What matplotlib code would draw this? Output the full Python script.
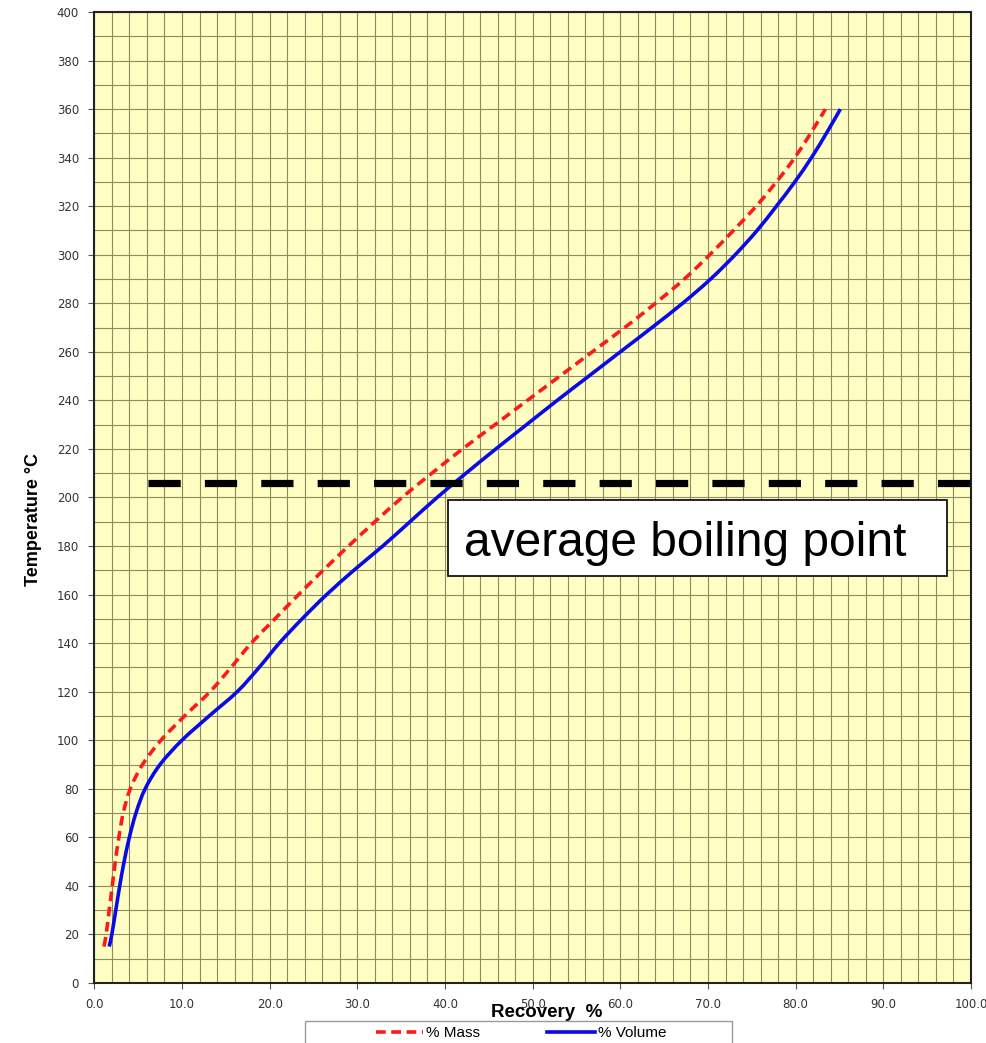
import numpy as np
import matplotlib
matplotlib.use("Agg")
import matplotlib.pyplot as plt
from matplotlib.lines import Line2D
from matplotlib.patches import Rectangle, PathPatch
from matplotlib.path import Path

plt.rcParams['lines.scale_dashes'] = False

# temperature (deg C) and recovery (%)
temps = [15, 20, 30, 40, 50, 60, 70, 80, 90, 100, 110, 120, 130, 140, 150, 160,
         170, 180, 190, 200, 210, 220, 230, 240, 250, 260, 270, 280, 290, 300,
         310, 320, 330, 340, 350, 360]
mass = [1.1, 1.35, 1.7, 2.05, 2.4, 2.8, 3.3, 4.1, 5.5, 7.6, 10.3, 13.2, 15.6,
        17.9, 20.6, 23.3, 26.1, 29.0, 32.0, 35.1, 38.5, 42.0, 45.7, 49.4, 53.1,
        56.8, 60.5, 64.0, 67.3, 70.2, 72.9, 75.5, 77.8, 79.9, 81.7, 83.4]
volume = [1.7, 2.0, 2.45, 2.9, 3.4, 4.0, 4.75, 5.8, 7.5, 10.0, 13.1, 16.3, 18.8,
          21.1, 23.7, 26.5, 29.6, 32.9, 36.0, 39.1, 42.4, 45.8, 49.3, 52.8, 56.4,
          60.0, 63.6, 67.1, 70.3, 73.1, 75.6, 77.8, 79.9, 81.8, 83.5, 85.1]
avg_bp = 206
avg_bp_start = 6.1
x_ticks = np.arange(0, 101, 10)
x_tick_labels = ["%.1f" % v for v in x_ticks]
y_ticks = np.arange(0, 401, 20)


def smooth_path(xs, ys):
    # Excel style smoothed line: Catmull-Rom segments as cubic Beziers
    p = np.column_stack([xs, ys]).astype(float)
    n = len(p)
    verts = [p[0]]
    codes = [Path.MOVETO]
    for i in range(n - 1):
        p0 = p[i - 1] if i > 0 else p[i]
        p3 = p[i + 2] if i + 2 < n else p[i + 1]
        c1 = p[i] + (p[i + 1] - p0) / 6.0
        c2 = p[i + 1] - (p3 - p[i]) / 6.0
        verts += [c1, c2, p[i + 1]]
        codes += [Path.CURVE4] * 3
    return Path(verts, codes)


W, H = 986, 1043
fig = plt.figure(figsize=(W / 100, H / 100), dpi=100)
ax = fig.add_axes([94.3 / W, 60 / H, (971 - 94.3) / W, (983 - 12) / H])
ax.set_facecolor('#FFFFC4')

ax.set_xlim(0, 100)
ax.set_ylim(0, 400)
ax.set_xticks(x_ticks)
ax.set_xticklabels(x_tick_labels)
ax.set_yticks(y_ticks)
ax.set_xticks(np.arange(0, 101, 2), minor=True)
ax.set_yticks(np.arange(0, 401, 10), minor=True)
ax.grid(which='both', color='#8c8c5e', lw=0.8)
ax.set_axisbelow(True)
ax.tick_params(which='major', direction='out', length=4, width=0.8,
               color='#555555', labelsize=8.5, labelcolor='#333333', pad=7)
ax.tick_params(which='minor', length=0)
for s in ax.spines.values():
    s.set_color('#222222')
    s.set_linewidth(1.5)

ax.add_patch(PathPatch(smooth_path(mass, temps), facecolor='none',
                       edgecolor='#FF1A1A', lw=2.6, ls=(0, (7, 4)), zorder=3))
ax.add_patch(PathPatch(smooth_path(volume, temps), facecolor='none',
                       edgecolor='#0A0AE6', lw=2.6, zorder=3))

# average boiling point marker
ax.plot([avg_bp_start, 100], [avg_bp, avg_bp], color='black', lw=5.2,
        ls=(0, (23.2, 17.4)), solid_capstyle='butt', dash_capstyle='butt', zorder=4)

fig.patches.append(Rectangle((448 / W, 1 - 576 / H), (947 - 448) / W, 76 / H,
                             transform=fig.transFigure, facecolor='white',
                             edgecolor='black', lw=1.2, zorder=5))
fig.text(464 / W, 1 - 556 / H, 'average boiling point', fontsize=34.5,
         family='Liberation Sans', va='baseline', ha='left', zorder=6)

fig.text(33 / W, 1 - 519 / H, 'Temperature \u00b0C', fontsize=13, fontweight='bold',
         family='Liberation Sans', rotation=90, ha='center', va='center')
fig.text(547 / W, 1 - 1004 / H, 'Recovery  %', fontsize=13.5, fontweight='bold',
         family='Liberation Sans', ha='center', va='top', zorder=1)

fig.patches.append(Rectangle((305 / W, -0.02), (732 - 305) / W, 0.02 + (1043 - 1021) / H,
                             transform=fig.transFigure, facecolor='white',
                             edgecolor='#9a9a9a', lw=1.0, zorder=2))
handles = [Line2D([], [], color='#FF1A1A', lw=2.6, ls=(0, (7, 4))),
           Line2D([], [], color='#0A0AE6', lw=2.6)]
leg = fig.legend(handles, ['% Mass', '% Volume'], loc='center',
                 bbox_to_anchor=(521 / W, 1 - 1033 / H), ncol=2, frameon=False,
                 handlelength=3.1, columnspacing=4.4, handletextpad=0.2,
                 prop={'family': 'Liberation Sans', 'size': 11})
leg.set_zorder(3)

fig.savefig('out.png', dpi=100)
